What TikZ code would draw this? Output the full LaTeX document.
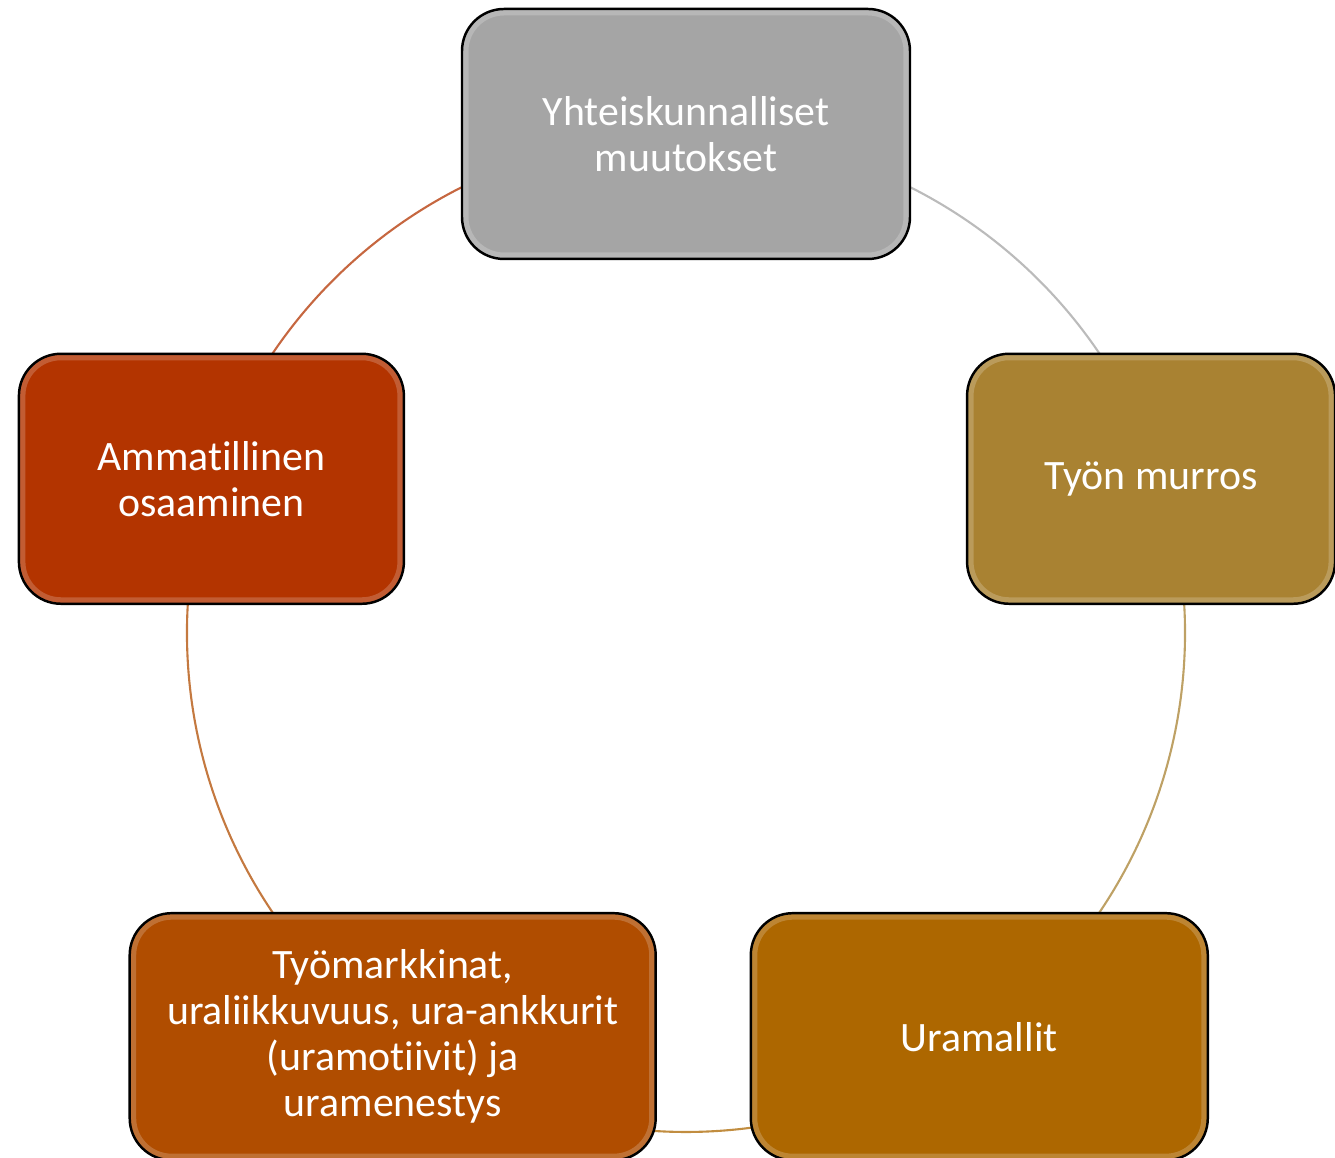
\documentclass[tikz,border=0pt]{standalone}
\usepackage{fontspec}
\setmainfont{Carlito}[Ligatures=NoCommon]
\usepackage{xcolor}
\usepackage{tikz}
\usetikzlibrary{calc}

\definecolor{muutoscol}{HTML}{A5A5A5}
\definecolor{murroscol}{HTML}{A98232}
\definecolor{mallicol}{HTML}{AD6700}
\definecolor{markkinacol}{HTML}{B04D00}
\definecolor{osaamiscol}{HTML}{B33400}

\begin{document}
\begin{tikzpicture}[
  cyclebox/.style={draw=black,line width=0.7pt,rounded corners=0.42cm,
    text=white,align=center,font=\fontsize{11.9}{13.1}\selectfont,
    minimum height=2.5cm,inner sep=4pt,
    path picture={\draw[white,opacity=0.2,line width=0.13cm,rounded corners=0.42cm]
      (path picture bounding box.south west) rectangle (path picture bounding box.north east);}},
  link/.style={line width=0.6pt,draw=#1}
]
\useasboundingbox (0,0) rectangle (13.35,11.58);
\coordinate (hub) at (6.86,5.25);
% points of the cycle
\foreach \a/\p in {90/p1,18/p2,-54/p3,-126/p4,162/p5}
  \coordinate (\p) at ($(hub)+(\a:4.99)$);
\draw[link=muutoscol!75!white] (p1) arc[start angle=90,end angle=18,radius=4.99];
\draw[link=murroscol!75!white] (p2) arc[start angle=18,end angle=-54,radius=4.99];
\draw[link=mallicol!75!white] (p3) arc[start angle=-54,end angle=-126,radius=4.99];
\draw[link=markkinacol!75!white] (p4) arc[start angle=-126,end angle=-198,radius=4.99];
\draw[link=osaamiscol!75!white] (p5) arc[start angle=162,end angle=90,radius=4.99];
\node[cyclebox,fill=muutoscol,minimum width=4.48cm] (muutokset) at (p1)
  {Yhteiskunnalliset\\muutokset};
\node[cyclebox,fill=murroscol,minimum width=3.68cm,xshift=-0.095cm] (murros) at (p2)
  {Työn murros};
\node[cyclebox,fill=mallicol,minimum width=4.57cm,minimum height=2.47cm] (uramallit) at (p3)
  {Uramallit};
\node[cyclebox,fill=markkinacol,minimum width=5.26cm,minimum height=2.47cm] (tyomarkkinat) at (p4)
  {Työmarkkinat,\\uraliikkuvuus, ura-ankkurit\\(uramotiivit) ja\\uramenestys};
\node[cyclebox,fill=osaamiscol,minimum width=3.85cm] (osaaminen) at (p5)
  {Ammatillinen\\osaaminen};
\end{tikzpicture}
\end{document}
